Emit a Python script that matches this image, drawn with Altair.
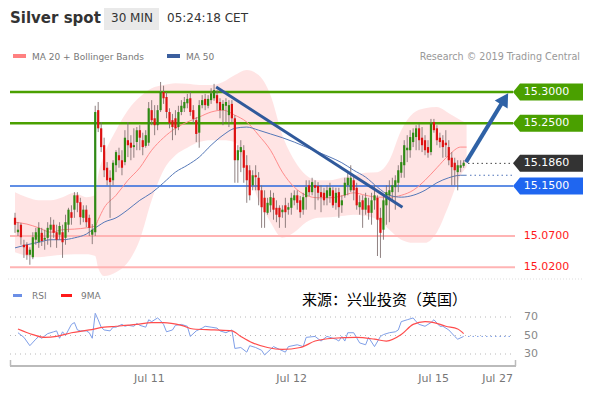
import altair as alt
import pandas as pd

# ---------------- candle data (30 min) ----------------
opens = [15.099, 15.076, 15.088, 15.056, 15.056, 15.040, 15.036, 15.064, 15.060, 15.075,
         15.064, 15.067, 15.080, 15.088, 15.076, 15.072, 15.076, 15.067, 15.088, 15.108,
         15.112, 15.135, 15.124, 15.099, 15.112, 15.099, 15.072, 15.076, 15.271, 15.242,
         15.215, 15.179, 15.163, 15.159, 15.183, 15.199, 15.191, 15.188, 15.223, 15.219,
         15.212, 15.220, 15.239, 15.223, 15.214, 15.219, 15.271, 15.258, 15.247, 15.271,
         15.300, 15.292, 15.268, 15.255, 15.258, 15.244, 15.268, 15.274, 15.282, 15.290,
         15.271, 15.255, 15.235, 15.279, 15.289, 15.278, 15.287, 15.290, 15.295, 15.284,
         15.271, 15.278, 15.263, 15.281, 15.258, 15.191, 15.204, 15.207, 15.183, 15.175,
         15.151, 15.167, 15.163, 15.143, 15.131, 15.107, 15.119, 15.131, 15.115, 15.115,
         15.108, 15.119, 15.112, 15.115, 15.127, 15.135, 15.127, 15.112, 15.132, 15.151,
         15.140, 15.151, 15.150, 15.140, 15.139, 15.131, 15.134, 15.143, 15.123, 15.140,
         15.119, 15.135, 15.151, 15.143, 15.159, 15.147, 15.116, 15.127, 15.112, 15.119,
         15.107, 15.127, 15.131, 15.099, 15.080, 15.119, 15.135, 15.140, 15.148, 15.155,
         15.171, 15.183, 15.207, 15.207, 15.220, 15.228, 15.242, 15.227, 15.223, 15.212,
         15.204, 15.252, 15.242, 15.227, 15.223, 15.219, 15.212, 15.195, 15.187, 15.172,
         15.179, 15.182]
highs = [15.107, 15.092, 15.091, 15.064, 15.060, 15.052, 15.076, 15.083, 15.092, 15.083,
         15.080, 15.092, 15.100, 15.096, 15.088, 15.092, 15.088, 15.104, 15.115, 15.119,
         15.140, 15.140, 15.131, 15.119, 15.119, 15.104, 15.089, 15.278, 15.284, 15.252,
         15.227, 15.188, 15.175, 15.191, 15.207, 15.211, 15.207, 15.239, 15.252, 15.231,
         15.242, 15.244, 15.247, 15.235, 15.239, 15.284, 15.287, 15.279, 15.279, 15.316,
         15.310, 15.300, 15.274, 15.265, 15.271, 15.278, 15.287, 15.292, 15.297, 15.300,
         15.279, 15.260, 15.287, 15.295, 15.297, 15.295, 15.306, 15.313, 15.303, 15.290,
         15.287, 15.290, 15.287, 15.287, 15.263, 15.215, 15.223, 15.215, 15.199, 15.183,
         15.175, 15.183, 15.172, 15.151, 15.143, 15.131, 15.143, 15.139, 15.127, 15.119,
         15.119, 15.131, 15.123, 15.139, 15.143, 15.143, 15.134, 15.139, 15.159, 15.159,
         15.163, 15.159, 15.156, 15.151, 15.147, 15.151, 15.155, 15.148, 15.147, 15.147,
         15.135, 15.163, 15.172, 15.183, 15.167, 15.155, 15.135, 15.135, 15.139, 15.131,
         15.139, 15.151, 15.135, 15.115, 15.134, 15.151, 15.159, 15.163, 15.167, 15.183,
         15.199, 15.223, 15.231, 15.239, 15.242, 15.247, 15.249, 15.244, 15.231, 15.223,
         15.257, 15.257, 15.247, 15.235, 15.231, 15.239, 15.223, 15.204, 15.195, 15.191,
         15.191, 15.191]
lows = [15.075, 15.070, 15.056, 15.035, 15.032, 15.024, 15.033, 15.056, 15.051, 15.054,
        15.048, 15.056, 15.052, 15.067, 15.051, 15.064, 15.035, 15.056, 15.076, 15.088,
        15.099, 15.108, 15.088, 15.092, 15.084, 15.070, 15.057, 15.070, 15.236, 15.204,
        15.164, 15.151, 15.099, 15.151, 15.172, 15.179, 15.167, 15.183, 15.196, 15.191,
        15.195, 15.207, 15.207, 15.199, 15.211, 15.214, 15.247, 15.231, 15.239, 15.268,
        15.281, 15.258, 15.242, 15.223, 15.231, 15.239, 15.263, 15.268, 15.274, 15.262,
        15.250, 15.220, 15.211, 15.274, 15.271, 15.274, 15.281, 15.286, 15.271, 15.258,
        15.247, 15.252, 15.244, 15.252, 15.155, 15.155, 15.172, 15.155, 15.123, 15.127,
        15.143, 15.143, 15.119, 15.083, 15.083, 15.104, 15.108, 15.096, 15.092, 15.083,
        15.099, 15.083, 15.104, 15.104, 15.119, 15.112, 15.099, 15.104, 15.112, 15.134,
        15.135, 15.112, 15.127, 15.108, 15.119, 15.119, 15.123, 15.115, 15.112, 15.099,
        15.107, 15.131, 15.135, 15.140, 15.127, 15.112, 15.104, 15.083, 15.104, 15.096,
        15.088, 15.112, 15.038, 15.035, 15.064, 15.088, 15.092, 15.127, 15.112, 15.140,
        15.163, 15.163, 15.188, 15.195, 15.212, 15.207, 15.207, 15.204, 15.199, 15.195,
        15.199, 15.235, 15.215, 15.211, 15.195, 15.196, 15.183, 15.151, 15.151, 15.143,
        15.172, 15.179]
closes = [15.088, 15.080, 15.068, 15.052, 15.040, 15.048, 15.068, 15.076, 15.083, 15.062,
          15.067, 15.083, 15.088, 15.075, 15.064, 15.086, 15.060, 15.092, 15.112, 15.099,
          15.135, 15.123, 15.100, 15.112, 15.092, 15.083, 15.080, 15.268, 15.242, 15.212,
          15.175, 15.159, 15.156, 15.187, 15.204, 15.191, 15.179, 15.227, 15.215, 15.211,
          15.215, 15.239, 15.227, 15.212, 15.231, 15.274, 15.255, 15.247, 15.271, 15.300,
          15.290, 15.268, 15.250, 15.244, 15.242, 15.268, 15.278, 15.284, 15.289, 15.268,
          15.257, 15.233, 15.279, 15.287, 15.279, 15.289, 15.298, 15.303, 15.282, 15.271,
          15.281, 15.284, 15.279, 15.258, 15.191, 15.207, 15.212, 15.179, 15.159, 15.135,
          15.167, 15.164, 15.143, 15.116, 15.108, 15.123, 15.132, 15.112, 15.104, 15.100,
          15.112, 15.108, 15.116, 15.131, 15.135, 15.123, 15.108, 15.132, 15.148, 15.140,
          15.156, 15.147, 15.139, 15.132, 15.127, 15.143, 15.147, 15.119, 15.139, 15.116,
          15.127, 15.155, 15.163, 15.163, 15.143, 15.119, 15.124, 15.112, 15.131, 15.107,
          15.127, 15.135, 15.096, 15.075, 15.127, 15.140, 15.143, 15.151, 15.159, 15.175,
          15.188, 15.215, 15.211, 15.228, 15.235, 15.242, 15.223, 15.215, 15.207, 15.203,
          15.250, 15.239, 15.223, 15.220, 15.212, 15.215, 15.191, 15.180, 15.175, 15.183,
          15.183, 15.187]

# ---------------- indicators ----------------
band_idx = [0, 4, 8, 12, 16, 20, 24, 27, 28, 30, 34, 38, 42, 46, 50, 54, 58, 62, 66, 70,
            74, 78, 82, 86, 90, 94, 98, 102, 106, 110, 114, 118, 122, 126, 130, 134, 138,
            142, 146, 150, 152]
band_upper = [15.140, 15.132, 15.127, 15.127, 15.132, 15.139, 15.132, 15.135, 15.167, 15.199,
              15.239, 15.271, 15.292, 15.306, 15.311, 15.314, 15.313, 15.311, 15.311, 15.316,
              15.327, 15.335, 15.327, 15.295, 15.231, 15.191, 15.167, 15.159, 15.159, 15.163,
              15.167, 15.171, 15.172, 15.191, 15.239, 15.266, 15.274, 15.276, 15.266, 15.255,
              15.250]
band_lower = [15.044, 15.038, 15.036, 15.038, 15.040, 15.041, 15.041, 15.038, 15.019, 15.006,
              15.012, 15.028, 15.064, 15.127, 15.175, 15.199, 15.211, 15.220, 15.223, 15.223,
              15.220, 15.175, 15.127, 15.092, 15.067, 15.076, 15.092, 15.099, 15.100, 15.102,
              15.104, 15.102, 15.096, 15.080, 15.064, 15.059, 15.059, 15.076, 15.119, 15.167,
              15.180]
ma20 = [15.092, 15.089, 15.083, 15.076, 15.080, 15.081, 15.083, 15.086, 15.096, 15.115,
        15.135, 15.159, 15.179, 15.207, 15.227, 15.242, 15.252, 15.260, 15.268, 15.271,
        15.263, 15.252, 15.231, 15.207, 15.172, 15.148, 15.135, 15.131, 15.131, 15.134,
        15.139, 15.135, 15.132, 15.132, 15.135, 15.143, 15.159, 15.179, 15.199, 15.212,
        15.212]
ma50 = [15.051, 15.056, 15.060, 15.064, 15.064, 15.067, 15.073, 15.083, 15.086, 15.092,
        15.099, 15.112, 15.127, 15.139, 15.155, 15.172, 15.183, 15.196, 15.215, 15.231,
        15.242, 15.244, 15.239, 15.233, 15.227, 15.220, 15.212, 15.204, 15.196, 15.187,
        15.175, 15.164, 15.148, 15.135, 15.132, 15.135, 15.143, 15.155, 15.163, 15.167,
        15.167]

rsi_idx = [1, 3, 5, 7, 8, 9, 11, 13, 14, 15, 16, 17, 18, 19, 20, 21, 22, 24, 25, 26,
           27, 28, 29, 30, 32, 33, 34, 36, 37, 38, 40, 41, 42, 44, 45, 46, 48, 49, 50, 51,
           53, 54, 56, 58, 59, 61, 63, 64, 66, 68, 69, 71, 73, 74, 76, 78, 79, 81, 83, 84,
           86, 87, 89, 91, 92, 95, 97, 98, 101, 103, 105, 106, 108, 109, 110, 111, 112, 114,
           116, 118, 119, 121, 123, 124, 126, 128, 129, 130, 132, 134, 135, 136, 138, 140,
           141, 143, 144, 146, 148, 149, 151]
rsi_val = [53, 48, 39, 46, 49, 47, 52, 54, 55, 47, 54, 50, 56, 62, 64, 56, 55, 55, 53, 47,
           74, 67, 59, 56, 55, 59, 59, 62, 60, 61, 60, 63, 61, 59, 67, 65, 69, 66, 62, 54,
           56, 61, 62, 60, 49, 55, 58, 60, 59, 58, 55, 53, 56, 36, 37, 32, 39, 37, 34, 29,
           35, 38, 35, 32, 38, 40, 38, 48, 49, 44, 49, 48, 46, 44, 49, 44, 53, 53,
           42, 40, 48, 38, 49, 51, 53, 54, 56, 65, 67, 69, 65, 62, 60, 64,
           67, 60, 60, 56, 49, 46, 49]
rsi_ma_idx = [1, 6, 10, 14, 19, 25, 30, 34, 41, 46, 50, 56, 60, 67, 73, 76, 80, 85, 90, 96,
              101, 107, 115, 121, 125, 130, 134, 138, 141, 145, 149, 151]
rsi_ma_val = [57, 51, 48, 49, 53, 56, 59, 60, 62, 64, 64, 61, 57, 56, 55, 49, 42, 37, 35, 37,
              44, 47, 48, 46, 44, 51, 62, 65, 64, 60, 57, 52]
rsi_levels = [70, 50, 30]
rsi_last = 49

# ---------------- levels & annotations ----------------
green_levels = [15.30, 15.25]
blue_levels = [15.15]
red_levels = [15.07, 15.02]
red_labels = ["15.0700", "15.0200"]
box_prices = [15.30, 15.25, 15.186, 15.15]
box_labels = ["15.3000", "15.2500", "15.1860", "15.1500"]
box_colors = ["#4aa000", "#4aa000", "#333333", "#1f66f0"]
last_price = 15.186
ma50_last = 15.167
trend_i = [67.7, 130.4]
trend_p = [15.308, 15.116]
arrow_i = [151.8, 163.7]
arrow_p = [15.188, 15.281]
arrow_head_i = [164.8]
arrow_head_p = [15.289]
tick_labels = ["Jul 11", "Jul 12", "Jul 15", "Jul 27"]
tick_pos = [45.2, 93.1, 140.9, 162.4]

FONT = "DejaVu Sans"
XS = alt.Scale(domain=[0, 170], range=[2, 517.1])
PS = alt.Scale(domain=[15.0, 15.35], range=[271.8, 52.7], zero=False, nice=False)
RS = alt.Scale(domain=[30, 70], range=[346, 309], zero=False, nice=False)


def X(f):
    return alt.X(f, type="quantitative", scale=XS, axis=None)


def PY(f):
    return alt.Y(f, type="quantitative", scale=PS, axis=None)


def RY(f):
    return alt.Y(f, type="quantitative", scale=RS, axis=None)


def one():
    return alt.Chart(pd.DataFrame({"a": [0]}))


def txt(s, x, y, size=11, color="#333", align="left", baseline="alphabetic",
        weight="normal", font=FONT):
    return alt.Chart(pd.DataFrame({"t": [s]})).mark_text(
        align=align, baseline=baseline, fontSize=size, color=color, font=font,
        fontWeight=weight).encode(text="t:N", x=alt.value(x), y=alt.value(y))


def rect(x1, y1, x2, y2, color):
    return one().mark_rect(color=color).encode(
        x=alt.value(x1), x2=alt.value(x2), y=alt.value(y1), y2=alt.value(y2))


candles = pd.DataFrame({"i": list(range(len(closes))), "o": opens, "h": highs,
                        "l": lows, "c": closes})
candles["col"] = ["#2f8a14" if c >= o else "#dd1111" for o, c in zip(opens, closes)]
band = pd.DataFrame({"i": band_idx, "up": band_upper, "lo": band_lower,
                     "m20": ma20, "m50": ma50})

layers = []
# Bollinger band
layers.append(alt.Chart(band).mark_area(color="#ffdfdf", opacity=0.85, interpolate="monotone")
              .encode(x=X("i"), y=PY("up"), y2="lo"))
# level lines
layers.append(alt.Chart(pd.DataFrame({"p": red_levels})).mark_rule(color="#ffb4b4", strokeWidth=2)
              .encode(y=PY("p"), x=alt.value(2), x2=alt.value(507)))
layers.append(alt.Chart(pd.DataFrame({"p": green_levels})).mark_rule(color="#4aa000", strokeWidth=2.5)
              .encode(y=PY("p"), x=alt.value(2), x2=alt.value(505)))
layers.append(alt.Chart(pd.DataFrame({"p": blue_levels})).mark_rule(color="#2b68dd", strokeWidth=1.5)
              .encode(y=PY("p"), x=alt.value(2), x2=alt.value(505)))
# moving averages
layers.append(alt.Chart(band).mark_line(color="#ff8c8c", strokeWidth=1, interpolate="monotone")
              .encode(x=X("i"), y=PY("m20")))
layers.append(alt.Chart(band).mark_line(color="#5578b8", strokeWidth=1, interpolate="monotone")
              .encode(x=X("i"), y=PY("m50")))
# candles
layers.append(alt.Chart(candles).mark_rule(color="#7d6c6c", strokeWidth=1, opacity=0.85)
              .encode(x=X("i"), y=PY("l"), y2="h"))
layers.append(alt.Chart(candles).mark_bar(size=2.2)
              .encode(x=X("i"), y=PY("o"), y2="c", color=alt.Color("col:N", scale=None)))
# trend line
layers.append(alt.Chart(pd.DataFrame({"i": [trend_i[0]], "i2": [trend_i[1]],
                                      "p": [trend_p[0]], "p2": [trend_p[1]]}))
              .mark_rule(color="#30599b", strokeWidth=3)
              .encode(x=X("i"), x2="i2", y=PY("p"), y2="p2"))
# arrow
layers.append(alt.Chart(pd.DataFrame({"i": [arrow_i[0]], "i2": [arrow_i[1]],
                                      "p": [arrow_p[0]], "p2": [arrow_p[1]]}))
              .mark_rule(color="#2f62a6", strokeWidth=4)
              .encode(x=X("i"), x2="i2", y=PY("p"), y2="p2"))
layers.append(alt.Chart(pd.DataFrame({"i": arrow_head_i, "p": arrow_head_p}))
              .mark_point(shape="triangle-up", filled=True, size=230, angle=32,
                          color="#2f62a6", opacity=1, strokeWidth=0)
              .encode(x=X("i"), y=PY("p")))
# dotted guides on the right
layers.append(alt.Chart(pd.DataFrame({"p": [last_price]}))
              .mark_rule(color="#444", strokeWidth=1, strokeDash=[1.5, 3])
              .encode(y=PY("p"), x=alt.value(460), x2=alt.value(504)))
layers.append(alt.Chart(pd.DataFrame({"p": [ma50_last]}))
              .mark_rule(color="#4d72b8", strokeWidth=1, strokeDash=[1.5, 3])
              .encode(y=PY("p"), x=alt.value(462), x2=alt.value(504)))
# label boxes
box_path = "M-1,0L-0.8,-0.243L1,-0.243L1,0.243L-0.8,0.243Z"
boxes = pd.DataFrame({"p": box_prices, "t": box_labels, "c": box_colors})
layers.append(alt.Chart(boxes).mark_point(shape=box_path, filled=True, size=4900, opacity=1,
                                          strokeWidth=0)
              .encode(y=PY("p"), x=alt.value(540), color=alt.Color("c:N", scale=None)))
layers.append(alt.Chart(boxes).mark_text(color="white", fontSize=11, font=FONT, align="center",
                                         baseline="middle")
              .encode(y=PY("p"), x=alt.value(538.5), text="t:N"))
layers.append(alt.Chart(pd.DataFrame({"p": red_levels, "t": red_labels}))
              .mark_text(color="#ff1a1a", fontSize=11, font=FONT, align="center", baseline="middle")
              .encode(y=PY("p"), x=alt.value(538.5), text="t:N"))

# separator
layers.append(one().mark_rule(color="#dddddd", strokeDash=[1, 2])
              .encode(x=alt.value(0), x2=alt.value(575), y=alt.value(271)))

# RSI panel
layers.append(alt.Chart(pd.DataFrame({"r": rsi_levels}))
              .mark_rule(color="#b8b8b8", strokeWidth=1, strokeDash=[1, 4])
              .encode(y=RY("r"), x=alt.value(2), x2=alt.value(504)))
layers.append(alt.Chart(pd.DataFrame({"i": rsi_idx, "r": rsi_val}))
              .mark_line(color="#7f9fe8", strokeWidth=1)
              .encode(x=X("i"), y=RY("r")))
layers.append(alt.Chart(pd.DataFrame({"i": rsi_ma_idx, "r": rsi_ma_val}))
              .mark_line(color="#ff4d4d", strokeWidth=1.2, interpolate="monotone")
              .encode(x=X("i"), y=RY("r")))
layers.append(alt.Chart(pd.DataFrame({"r": [rsi_last]}))
              .mark_rule(color="#7f9fe8", strokeWidth=1, strokeDash=[1.5, 3])
              .encode(y=RY("r"), x=alt.value(460), x2=alt.value(504)))
layers.append(alt.Chart(pd.DataFrame({"r": rsi_levels, "t": [str(v) for v in rsi_levels]}))
              .mark_text(color="#888", fontSize=11, font=FONT, align="center", baseline="middle")
              .encode(y=RY("r"), x=alt.value(523), text="t:N"))

# bottom axis
layers.append(one().mark_rule(color="#bbbbbb", strokeWidth=2)
              .encode(x=alt.value(2), x2=alt.value(508), y=alt.value(358)))
layers.append(one().mark_rule(color="#bbbbbb", strokeWidth=1.5)
              .encode(x=alt.value(2.5), y=alt.value(352), y2=alt.value(358)))
layers.append(one().mark_rule(color="#bbbbbb", strokeWidth=1.5)
              .encode(x=alt.value(507.5), y=alt.value(352), y2=alt.value(358)))
layers.append(alt.Chart(pd.DataFrame({"i": tick_pos, "t": tick_labels}))
              .mark_text(color="#777", fontSize=11, font=FONT, align="center", baseline="middle")
              .encode(x=X("i"), y=alt.value(371), text="t:N"))

# header
layers.append(rect(96, 0, 151, 22, "#e9e9e9"))
layers.append(txt("Silver spot", 2, 15, size=15, weight="bold", color="#333"))
layers.append(txt("30 MIN", 103, 14, size=12, color="#333"))
layers.append(txt("05:24:18 CET", 159, 14, size=12, color="#333"))
layers.append(rect(5, 46, 18, 50, "#ff8080"))
layers.append(txt("MA 20 + Bollinger Bands", 24, 52, size=9, color="#777"))
layers.append(rect(159, 46, 172, 50, "#3b5f9e"))
layers.append(txt("MA 50", 178, 52, size=9, color="#777"))
layers.append(txt("Research \u00a9 2019 Trading Central", 572, 52, size=9.6, color="#999",
                  align="right"))
# RSI legend
layers.append(rect(5, 286, 14, 289, "#6b8fe6"))
layers.append(txt("RSI", 24, 291, size=9, color="#777"))
layers.append(rect(53, 286, 64, 289, "#ff1a1a"))
layers.append(txt("9MA", 73, 291, size=9, color="#777"))
layers.append(txt("来源：兴业投资（英国）", 294, 292, size=15, color="#000", baseline="middle",
                  font="Noto Sans CJK SC"))

chart = alt.layer(*layers).resolve_scale(y="independent", color="independent").properties(
    width=575, height=381, autosize=alt.AutoSizeParams(type="none"), padding=0
).configure_view(stroke=None)

chart.save("out.html", embed_options={"renderer": "svg", "actions": False})
